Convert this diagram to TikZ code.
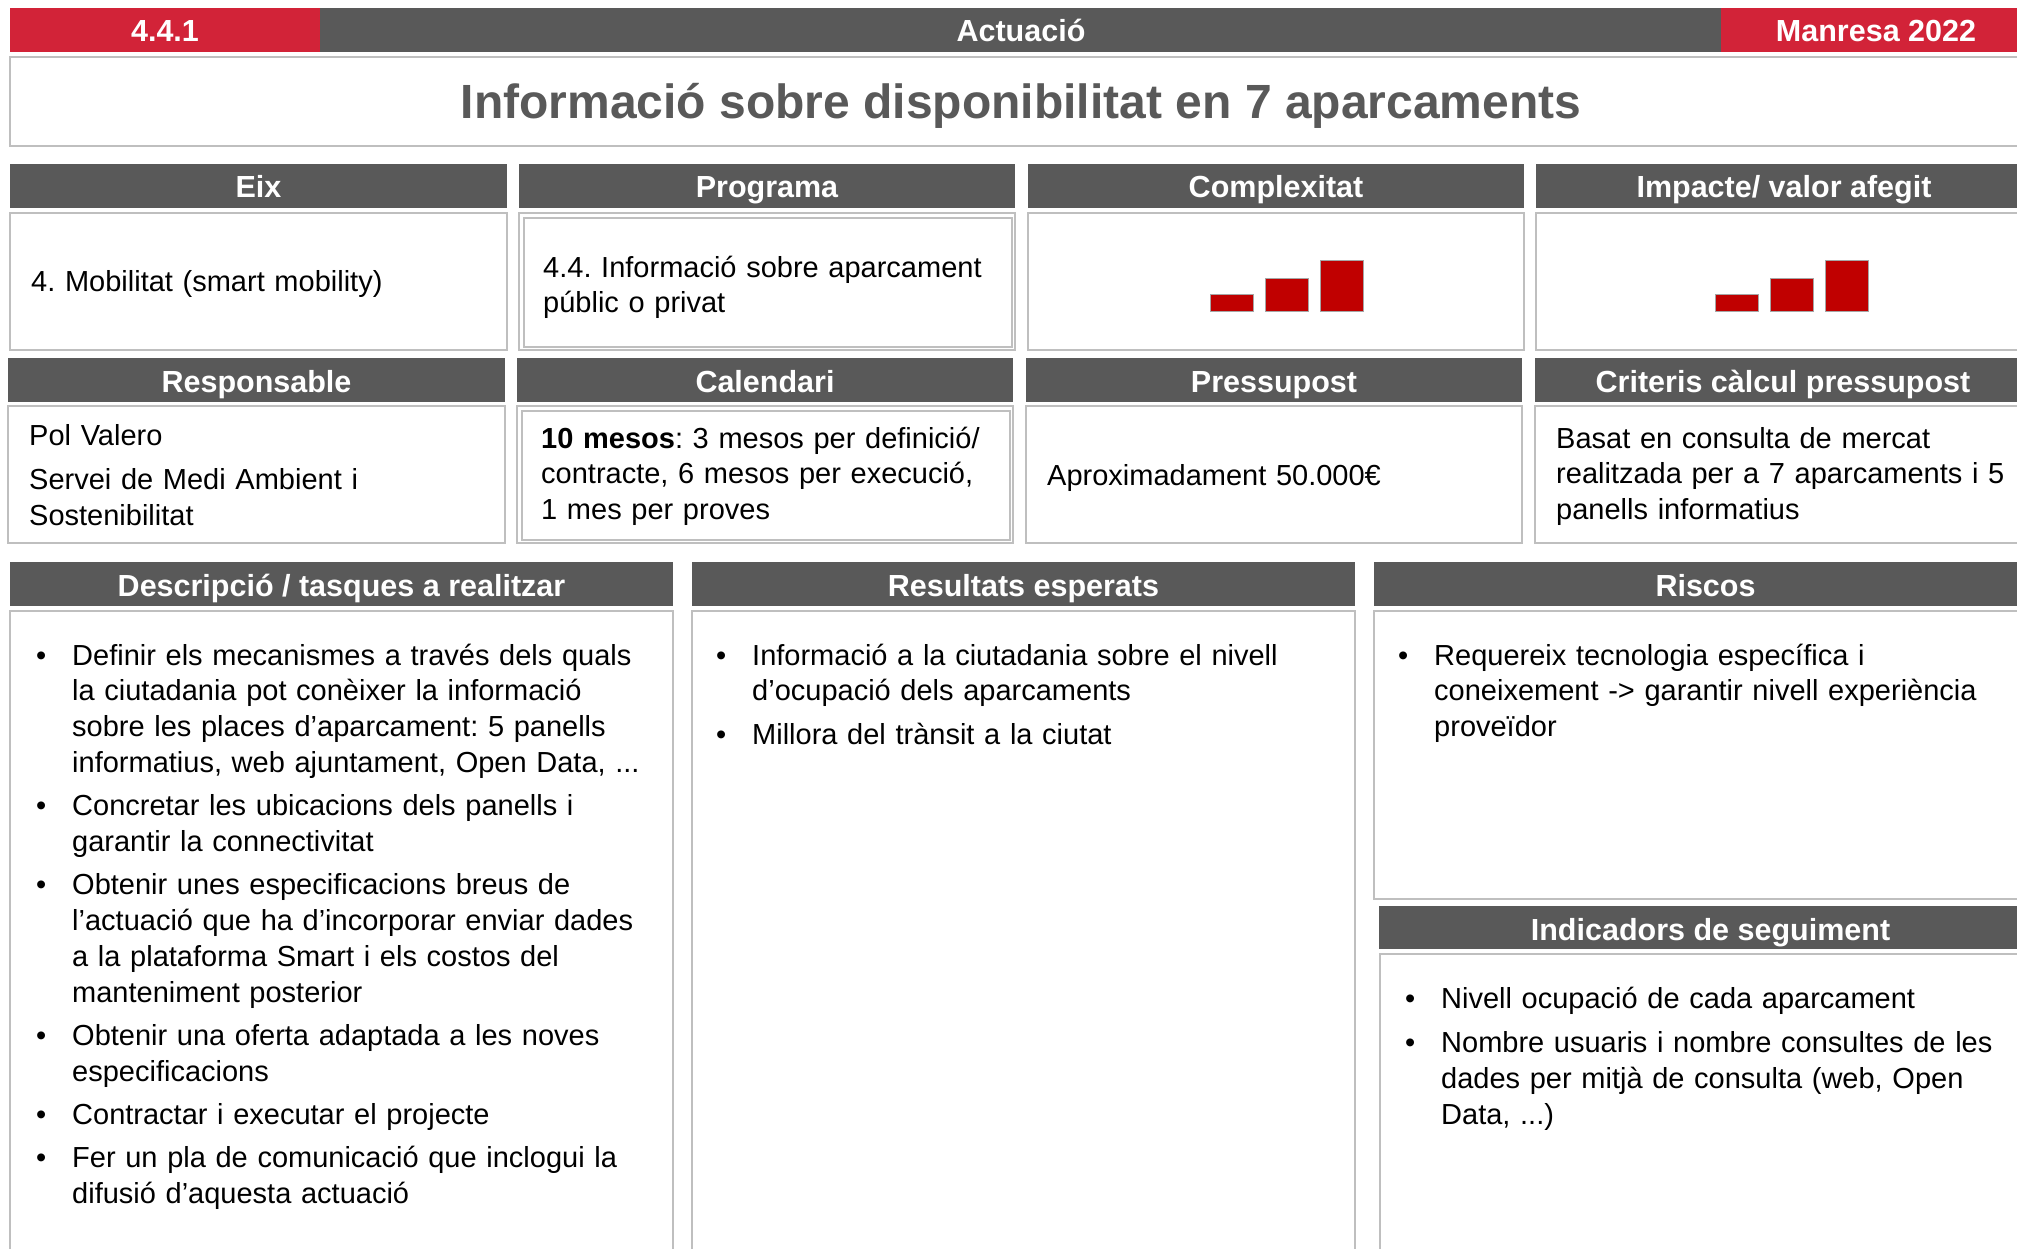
\documentclass[tikz,border=0pt]{standalone}
\usepackage{fontspec}
\setmainfont{Liberation Sans}
\frenchspacing
\definecolor{barred}{RGB}{210,35,56}
\definecolor{hdrgray}{RGB}{89,89,89}
\definecolor{boxgray}{RGB}{191,191,191}
\definecolor{chartred}{RGB}{192,0,0}
\definecolor{chartedge}{RGB}{166,166,166}
\newcommand\fntbar{\fontsize{30.5}{36}\selectfont\bfseries}
\newcommand\fnttitle{\fontsize{48}{56}\selectfont\bfseries}
\newcommand\fntbody{\fontsize{29}{35.8}\selectfont\frenchspacing}
\newcommand\bitem[1]{\hangindent=36pt\hangafter=1\noindent\hbox to 36pt{\textbullet\hfil}#1\par}
\tikzset{
  hdr/.style={fill=hdrgray},
  cbox/.style={draw=boxgray, line width=2pt},
  dbox/.style={draw=boxgray, line width=1.5pt},
  htxt/.style={font=\fntbar, text=white, anchor=base, inner sep=0pt},
  btxt/.style={font=\fntbody, anchor=base west, inner sep=0pt, text width=#1, align=left},
  chartbar/.style={fill=chartred, draw=chartedge, line width=1pt}
}
\begin{document}
\begin{tikzpicture}[x=1pt,y=-1pt]
\useasboundingbox (0,0) rectangle (2017,1249);
\clip (0,0) rectangle (2017,1249);
\fill[white] (0,0) rectangle (2017,1249);

% top bar
\fill[barred] (10,8) rectangle (320,52);
\fill[hdrgray] (320,8) rectangle (1721,52);
\fill[barred] (1721,8) rectangle (2031,52);
\node[htxt] (code) at (165,42) {4.4.1};
\node[htxt] (act) at (1021,42) {Actuació};
\node[htxt] (city) at (1876,42) {Manresa 2022};

% title
\draw[cbox] (10,57) rectangle (2031,146);
\node[font=\fnttitle, text=hdrgray, anchor=base, inner sep=0pt] (title) at (1021,119) {Informació sobre disponibilitat en 7 aparcaments};

% row 1 headers
\fill[hdr] (10,164) rectangle (507,208);
\fill[hdr] (519,164) rectangle (1015,208);
\fill[hdr] (1028,164) rectangle (1524,208);
\fill[hdr] (1536,164) rectangle (2032,208);
\node[htxt] (heix) at (258.5,198) {Eix};
\node[htxt] (hprog) at (767,198) {Programa};
\node[htxt] (hcomp) at (1276,198) {Complexitat};
\node[htxt] (himp) at (1784,198) {Impacte/ valor afegit};

% row 1 content
\draw[cbox] (10,213) rectangle (507,350);
\draw[cbox] (519,213) rectangle (1015,350);
\draw[dbox] (524,218) rectangle (1012,347);
\draw[cbox] (1028,213) rectangle (1524,350);
\draw[cbox] (1536,213) rectangle (2032,350);
\node[btxt=470] (eix) at (31,291) {4. Mobilitat (smart mobility)};
\node[btxt=470] (prog) at (543,277) {4.4. Informació sobre aparcament\newline públic o privat};
\draw[chartbar] (1210,294) rectangle (1253,311);
\draw[chartbar] (1265,278) rectangle (1308,311);
\draw[chartbar] (1320,261) rectangle (1363,311);
\draw[chartbar] (1715,294) rectangle (1758,311);
\draw[chartbar] (1770,278) rectangle (1813,311);
\draw[chartbar] (1825,261) rectangle (1868,311);

% row 2 headers
\fill[hdr] (8,358) rectangle (505,402);
\fill[hdr] (517,358) rectangle (1013,402);
\fill[hdr] (1026,358) rectangle (1522,402);
\fill[hdr] (1535,358) rectangle (2031,402);
\node[htxt] (hresp) at (256.5,392) {Responsable};
\node[htxt] (hcal) at (765,392) {Calendari};
\node[htxt] (hpres) at (1274,392) {Pressupost};
\node[htxt] (hcrit) at (1783,392) {Criteris càlcul pressupost};

% row 2 content
\draw[cbox] (8,406) rectangle (505,543);
\draw[cbox] (517,406) rectangle (1013,543);
\draw[dbox] (522,411) rectangle (1010,540);
\draw[cbox] (1026,406) rectangle (1522,543);
\draw[cbox] (1535,406) rectangle (2031,543);
\node[btxt=470] (resp) at (29,445) {\setlength\parskip{8.5pt}Pol Valero\par Servei de Medi Ambient i\newline Sostenibilitat\par};
\node[btxt=470] (cal) at (541,448) {\textbf{10 mesos}: 3 mesos per definició/\newline contracte, 6 mesos per execució,\newline 1 mes per proves};
\node[btxt=470] (pres) at (1047,485) {Aproximadament 50.000€};
\node[btxt=470] (crit) at (1556,448) {Basat en consulta de mercat\newline realitzada per a 7 aparcaments i 5\newline panells informatius};

% row 3 headers
\fill[hdr] (10,562) rectangle (673,606);
\fill[hdr] (692,562) rectangle (1355,606);
\fill[hdr] (1374,562) rectangle (2037,606);
\node[htxt] (hdesc) at (341.5,596) {Descripció / tasques a realitzar};
\node[htxt] (hres) at (1023.5,596) {Resultats esperats};
\node[htxt] (hrisc) at (1705.5,596) {Riscos};

% row 3 content
\draw[cbox] (10,611) rectangle (673,1270);
\draw[cbox] (692,611) rectangle (1355,1270);
\draw[cbox] (1374,611) rectangle (2037,899);
\fill[hdr] (1379,906) rectangle (2042,949);
\node[htxt] (hind) at (1710.5,940) {Indicadors de seguiment};
\draw[cbox] (1380,954) rectangle (2042,1270);

\node[btxt=640] (desc) at (36,665) {\setlength\parskip{7.5pt}%
\bitem{Definir els mecanismes a través dels quals\newline la ciutadania pot conèixer la informació\newline sobre les places d’aparcament: 5 panells\newline informatius, web ajuntament, Open Data, ...}%
\bitem{Concretar les ubicacions dels panells i\newline garantir la connectivitat}%
\bitem{Obtenir unes especificacions breus de\newline l’actuació que ha d’incorporar enviar dades\newline a la plataforma Smart i els costos del\newline manteniment posterior}%
\bitem{Obtenir una oferta adaptada a les noves\newline especificacions}%
\bitem{Contractar i executar el projecte}%
\bitem{Fer un pla de comunicació que inclogui la\newline difusió d’aquesta actuació}};

\node[btxt=640] (res) at (716,665) {\setlength\parskip{7.5pt}%
\bitem{Informació a la ciutadania sobre el nivell\newline d’ocupació dels aparcaments}%
\bitem{Millora del trànsit a la ciutat}};

\node[btxt=620] (risc) at (1398,665) {\setlength\parskip{7.5pt}%
\bitem{Requereix tecnologia específica i\newline coneixement -> garantir nivell experiència\newline proveïdor}};

\node[btxt=620] (ind) at (1405,1008) {\setlength\parskip{9pt}%
\bitem{Nivell ocupació de cada aparcament}%
\bitem{Nombre usuaris i nombre consultes de les\newline dades per mitjà de consulta (web, Open\newline Data, ...)}};
\end{tikzpicture}
\end{document}
